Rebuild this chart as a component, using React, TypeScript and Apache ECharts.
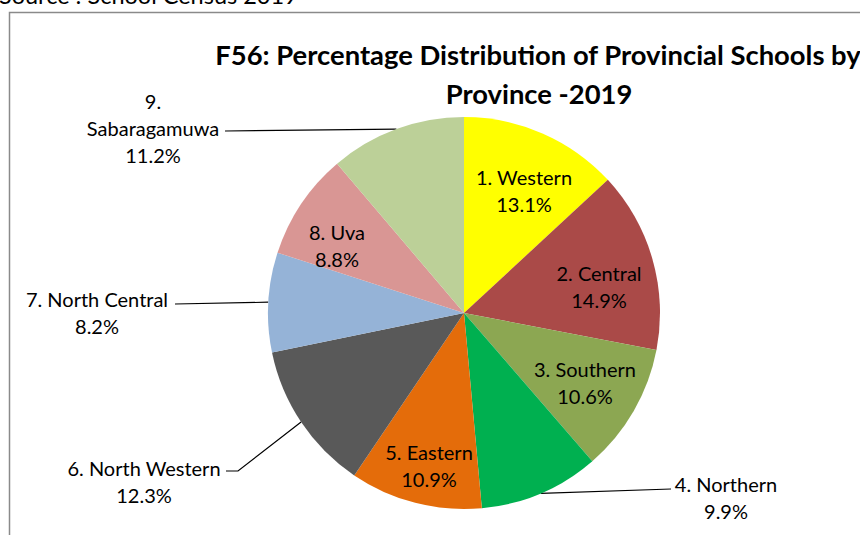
import React, { useEffect, useRef } from 'react';
import * as echarts from 'echarts';

const provinces = [
  '1. Western',
  '2. Central',
  '3. Southern',
  '4. Northern',
  '5. Eastern',
  '6. North Western',
  '7. North Central',
  '8. Uva',
  '9. Sabaragamuwa',
];
const shares = [13.1, 14.9, 10.6, 9.9, 10.9, 12.3, 8.2, 8.8, 11.2];
const sliceColors = ['#FFFF00', '#AA4A48', '#8CA752', '#00B050', '#E46C0A', '#595959', '#95B3D7', '#D99694', '#BCD098'];
const outsideLabel = [false, false, false, true, false, true, true, false, true];
const titleLines = ['F56: Percentage Distribution of Provincial Schools by', 'Province -2019'];
const sourceNote = 'Source : School Census 2019';

// label placement (centre x, middle y) and leader-line elbows
const labelAnchors: [number, number][] = [
  [524, 190],
  [599, 286],
  [585, 382],
  [726, 497],
  [429, 465],
  [144, 481],
  [97, 312],
  [337, 245],
  [153, 128],
];
const labelElbows: [number, number][][] = [
  [], [], [],
  [[671, 489]],
  [],
  [[238, 471], [226, 471]],
  [[175, 304]],
  [],
  [[225, 131]],
];

const FONT = 'Lato, "Open Sans", sans-serif';

export default function App() {
  const ref = useRef<HTMLDivElement>(null);
  useEffect(() => {
    document.body.style.margin = '0';
    const chart = echarts.init(ref.current!, null, { renderer: 'svg' });
    const data = provinces.map((name, i) => ({
      name,
      value: shares[i],
      itemStyle: { color: sliceColors[i] },
      label: { position: outsideLabel[i] ? 'outside' : 'inside' },
      labelLine: { show: outsideLabel[i] },
    }));
    chart.setOption({
      animation: false,
      graphic: [
        {
          type: 'rect',
          shape: { x: 9.5, y: 12.5, width: 900, height: 600 },
          style: { fill: 'none', stroke: '#8a8a8a', lineWidth: 1.5 },
          silent: true,
        },
        {
          type: 'text',
          x: -1,
          y: 7,
          style: { text: sourceNote, font: `23.5px ${FONT}`, fill: '#000', align: 'left', verticalAlign: 'bottom' },
        },
        {
          type: 'text',
          x: 538,
          y: 54,
          style: { text: titleLines[0], font: `bold 27.4px ${FONT}`, fill: '#000', align: 'center', verticalAlign: 'middle' },
        },
        {
          type: 'text',
          x: 539,
          y: 93,
          style: { text: titleLines[1], font: `bold 27.4px ${FONT}`, fill: '#000', align: 'center', verticalAlign: 'middle' },
        },
      ],
      series: [
        {
          type: 'pie',
          center: [464, 313],
          radius: 196,
          startAngle: 90,
          clockwise: true,
          avoidLabelOverlap: false,
          itemStyle: { borderWidth: 0 },
          label: {
            show: true,
            color: '#000',
            fontFamily: FONT,
            fontSize: 20,
            lineHeight: 27,
            formatter: (p: any) => {
              const name = p.dataIndex === 8 ? p.name.replace(' ', '\n') : p.name;
              return `${name}\n${shares[p.dataIndex].toFixed(1)}%`;
            },
          },
          labelLine: { show: true, length: 10, length2: 10, lineStyle: { color: '#000', width: 1.2 } },
          labelLayout: (p: any) => {
            const i = p.dataIndex;
            const [x, y] = labelAnchors[i];
            const out: any = { x, y, align: 'center', verticalAlign: 'middle' };
            if (outsideLabel[i] && p.labelLinePoints) {
              out.labelLinePoints = [p.labelLinePoints[0], ...labelElbows[i]];
            }
            return out;
          },
          data,
        },
      ],
    });
    return () => chart.dispose();
  }, []);
  return <div ref={ref} style={{ width: 860, height: 535 }} />;
}
